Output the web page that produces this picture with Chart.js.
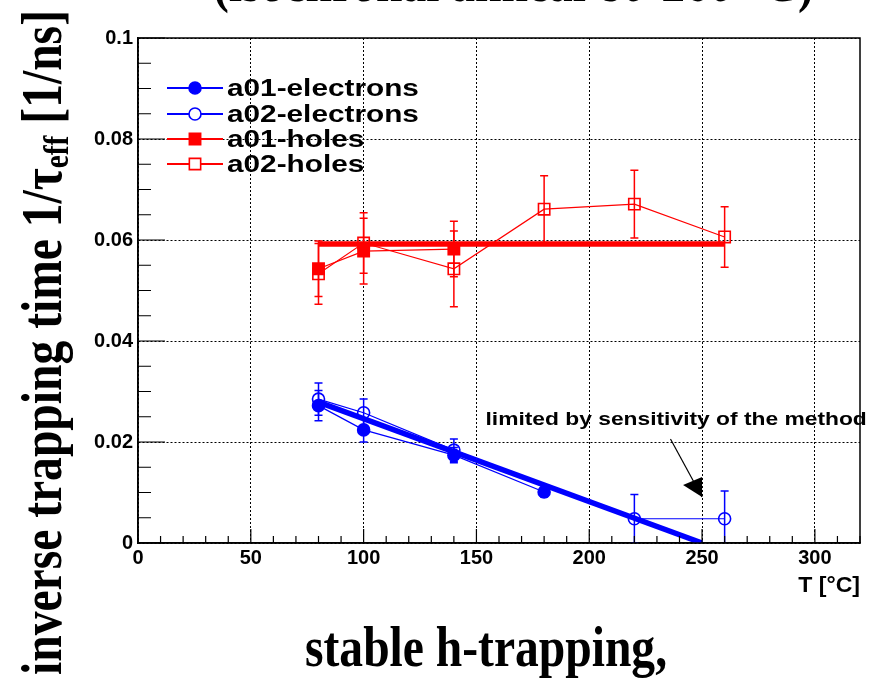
<!DOCTYPE html>
<html>
<head>
<meta charset="utf-8">
<script src="https://cdn.jsdelivr.net/npm/chart.js@4.4.0/dist/chart.umd.min.js"></script>
<style>
  html, body { margin: 0; padding: 0; background: #fff; }
  #wrap { position: relative; width: 881px; height: 680px; overflow: hidden; background: #fff; }
  #chart { position: absolute; left: 0; top: 0; }
  .serif { position: absolute; white-space: nowrap; color: #000; font-family: "Liberation Serif", "DejaVu Serif", serif; font-weight: bold; font-size: 58px; line-height: 1; transform-origin: 0 0; }
  #topTitle { left: 213px; top: -47px; transform: scaleX(0.82); }
  #bottomTitle { left: 305px; top: 618px; transform: scaleX(0.82); }
  #yTitle { left: 13px; top: 675px; transform: rotate(-90deg) scaleX(0.82); }
  #yTitle sub { font-size: 62%; vertical-align: -0.2em; line-height: 0; }
</style>
</head>
<body>
<div id="wrap">
  <canvas id="chart" width="881" height="680"></canvas>
  <div class="serif" id="topTitle">(isochronal anneal 80-260 °C)</div>
  <div class="serif" id="yTitle">inverse trapping time 1/τ<sub>eff</sub> [1/ns]</div>
  <div class="serif" id="bottomTitle">stable h-trapping,</div>
</div>
<script>
// temperatures (C) and inverse trapping times (1/ns)
const tA01e = [80, 100, 140, 180];
const vA01e = [0.0272, 0.0224, 0.0174, 0.0101];
const eA01e = [0.003, 0.0024, 0.0015, 0.001];

const tA02e = [80, 100, 140, 220, 260];
const vA02e = [0.0285, 0.0258, 0.0184, 0.0048, 0.0048];
const eA02e = [0.0032, 0.0027, 0.0022, 0.0048, 0.0055];

const tA01h = [80, 100, 140];
const vA01h = [0.0543, 0.0578, 0.0582];
const eA01h = [0.0055, 0.0065, 0.0055];

const tA02h = [80, 100, 140, 180, 220, 260];
const vA02h = [0.0533, 0.0594, 0.0543, 0.0661, 0.0671, 0.0606];
const eA02h = [0.006, 0.006, 0.0075, 0.0066, 0.0067, 0.006];

// straight line fits
const tFitE = [80, 250];
const vFitE = [0.0279, 0.0];
const tFitH = [80, 260];
const vFitH = [0.0592, 0.0592];

const xTicksMinor = 10;
const yTicksMinor = 0.005;

const noteText = "limited by sensitivity of the method";
const notePos = [154, 0.0244];
const arrowFrom = [236, 0.0206];
const arrowTo = [250, 0.0091];

const BLUE = "#0000ff";
const RED = "#ff0000";

function pts(xs, ys) {
  return xs.map((v, i) => ({ x: v, y: ys[i] }));
}

// draw text stretched horizontally, ROOT fonts look wider than Liberation
function wideText(ctx, text, x, y, sx, align) {
  ctx.save();
  ctx.translate(x, y);
  ctx.scale(sx, 1);
  ctx.textAlign = align || "left";
  ctx.fillText(text, 0, 0);
  ctx.restore();
}

const errorBars = {
  id: "errorBars",
  beforeDatasetsDraw(chart) {
    const { ctx, chartArea: a, scales: { x, y } } = chart;
    ctx.save();
    ctx.beginPath();
    ctx.rect(a.left, a.top, a.right - a.left, a.bottom - a.top);
    ctx.clip();
    chart.data.datasets.forEach((ds) => {
      if (!ds.errY) return;
      ctx.strokeStyle = ds.borderColor;
      ctx.lineWidth = 1.5;
      ds.data.forEach((p, i) => {
        const px = x.getPixelForValue(p.x);
        const top = y.getPixelForValue(p.y + ds.errY[i]);
        const bot = y.getPixelForValue(p.y - ds.errY[i]);
        ctx.beginPath();
        ctx.moveTo(px, top);
        ctx.lineTo(px, bot);
        ctx.moveTo(px - 4, top);
        ctx.lineTo(px + 4, top);
        ctx.moveTo(px - 4, bot);
        ctx.lineTo(px + 4, bot);
        ctx.stroke();
      });
    });
    ctx.restore();
  },
};

const frameTicks = {
  id: "frameTicks",
  afterDraw(chart) {
    const { ctx, chartArea: a, scales: { x, y } } = chart;
    ctx.save();
    ctx.strokeStyle = "#000";
    ctx.lineWidth = 1.5;
    ctx.strokeRect(a.left, a.top, a.right - a.left, a.bottom - a.top);
    ctx.lineWidth = 1.2;
    ctx.beginPath();
    for (let v = x.min; v <= x.max; v += xTicksMinor) {
      const px = x.getPixelForValue(v);
      const len = v % 50 === 0 ? 14 : 7;
      ctx.moveTo(px, a.bottom);
      ctx.lineTo(px, a.bottom - len);
    }
    for (let k = 0; k * yTicksMinor <= y.max + 1e-9; k++) {
      const py = y.getPixelForValue(k * yTicksMinor);
      const len = k % 4 === 0 ? 27 : 13;
      ctx.moveTo(a.left, py);
      ctx.lineTo(a.left + len, py);
    }
    ctx.stroke();

    // x axis title
    ctx.fillStyle = "#000";
    ctx.font = "bold 22px 'Liberation Sans', Arial, sans-serif";
    ctx.textBaseline = "middle";
    wideText(ctx, "T [°C]", a.right, 586, 1.05, "right");

    // annotation with arrow
    ctx.font = "bold 19px 'Liberation Sans', Arial, sans-serif";
    wideText(ctx, noteText, x.getPixelForValue(notePos[0]), y.getPixelForValue(notePos[1]), 1.2, "left");
    const x0 = x.getPixelForValue(arrowFrom[0]), y0 = y.getPixelForValue(arrowFrom[1]);
    const x1 = x.getPixelForValue(arrowTo[0]), y1 = y.getPixelForValue(arrowTo[1]);
    ctx.lineWidth = 1.2;
    ctx.beginPath();
    ctx.moveTo(x0, y0);
    ctx.lineTo(x1, y1);
    ctx.stroke();
    ctx.beginPath();
    ctx.moveTo(x1 - 19, y1 - 12);
    ctx.lineTo(x1, y1 - 20);
    ctx.lineTo(x1, y1);
    ctx.closePath();
    ctx.fill();

    // legend
    const rows = [88, 114, 139, 164];
    chart.data.datasets.filter((d) => d.inLegend).forEach((ds, i) => {
      const cy = rows[i];
      ctx.strokeStyle = ds.borderColor;
      ctx.lineWidth = ds.legendWidth;
      ctx.beginPath();
      ctx.moveTo(167, cy);
      ctx.lineTo(223, cy);
      ctx.stroke();
      ctx.lineWidth = ds.pointBorderWidth;
      ctx.beginPath();
      if (ds.pointStyle === "circle") {
        ctx.arc(195, cy, ds.pointRadius, 0, Math.PI * 2);
      } else {
        const s = ds.pointRadius * Math.SQRT1_2;
        ctx.rect(195 - s, cy - s, 2 * s, 2 * s);
      }
      ctx.fillStyle = ds.pointBackgroundColor === "transparent" ? "#fff" : ds.pointBackgroundColor;
      ctx.fill();
      ctx.stroke();
      ctx.fillStyle = "#000";
      ctx.font = "bold 24px 'Liberation Sans', Arial, sans-serif";
      ctx.textBaseline = "middle";
      wideText(ctx, ds.label, 227, cy + 1, 1.24, "left");
    });
    ctx.restore();
  },
};

function series(label, xs, ys, errs, color, style, filled, radius) {
  return {
    label: label,
    data: pts(xs, ys),
    errY: errs,
    inLegend: true,
    legendWidth: 2,
    borderColor: color,
    borderWidth: 1.2,
    pointStyle: style,
    pointRadius: radius,
    pointBorderWidth: 1.6,
    pointBorderColor: color,
    pointBackgroundColor: filled ? color : "transparent",
    showLine: true,
    fill: false,
    tension: 0,
  };
}

function fitLine(xs, ys, color) {
  return {
    data: pts(xs, ys),
    borderColor: color,
    borderWidth: 5.5,
    pointRadius: 0,
    showLine: true,
    fill: false,
    tension: 0,
  };
}

const tickFont = { family: "'Liberation Sans', Arial, sans-serif", weight: "bold", size: 20 };

new Chart(document.getElementById("chart"), {
  type: "scatter",
  data: {
    datasets: [
      series("a01-electrons", tA01e, vA01e, eA01e, BLUE, "circle", true, 6),
      series("a02-electrons", tA02e, vA02e, eA02e, BLUE, "circle", false, 6),
      series("a01-holes", tA01h, vA01h, eA01h, RED, "rect", true, 8),
      series("a02-holes", tA02h, vA02h, eA02h, RED, "rect", false, 8),
      fitLine(tFitE, vFitE, BLUE),
      fitLine(tFitH, vFitH, RED),
    ],
  },
  options: {
    responsive: false,
    animation: false,
    layout: { padding: { left: 0, top: 38, right: 21, bottom: 0 } },
    plugins: {
      legend: { display: false },
      tooltip: { enabled: false },
    },
    scales: {
      x: {
        type: "linear",
        min: 0,
        max: 320,
        afterFit: (s) => { s.height = 137; },
        ticks: {
          stepSize: 50,
          includeBounds: false,
          autoSkip: false,
          maxRotation: 0,
          padding: 3,
          color: "#000",
          font: tickFont,
          callback: (v) => (v % 50 === 0 ? String(v) : ""),
        },
        grid: { color: "#000", lineWidth: 1, drawTicks: false, tickLength: 0 },
        border: { display: true, color: "#000", width: 1.5, dash: [2, 2] },
      },
      y: {
        type: "linear",
        min: 0,
        max: 0.1,
        afterFit: (s) => { s.width = 138; },
        ticks: {
          stepSize: 0.02,
          padding: 5,
          color: "#000",
          font: tickFont,
          callback: (v) => String(+v.toFixed(3)),
        },
        grid: { color: "#000", lineWidth: 1, drawTicks: false, tickLength: 0 },
        border: { display: true, color: "#000", width: 1.5, dash: [2, 2] },
      },
    },
  },
  plugins: [errorBars, frameTicks],
});
</script>
</body>
</html>
